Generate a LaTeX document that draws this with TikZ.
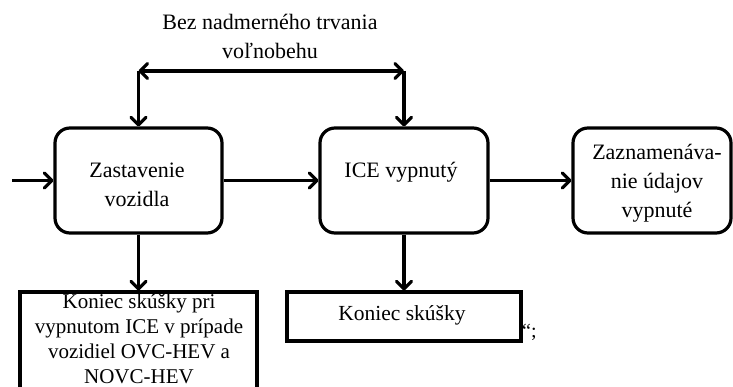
\documentclass[tikz,border=0pt]{standalone}
\usepackage{fontspec}
\setmainfont{Liberation Serif}
\usetikzlibrary{arrows.meta}
\begin{document}
\begin{tikzpicture}[x=1pt,y=-1pt,
  lw/.style={line width=3.2pt},
  barb/.tip={Straight Barb[length=7.5pt,width=15pt,round]},
  rbox/.style={draw,lw,rounded corners=15pt,inner sep=0pt},
  sbox/.style={draw,lw,inner sep=0pt},
  txt/.style={align=center,inner sep=0pt,anchor=base,font=\fontsize{22}{29}\selectfont},
  conn/.style={lw,-barb}]
\useasboundingbox (0,0) rectangle (733,387);
\begin{scope}
\clip (0,0) rectangle (733,387);
% process boxes
\node[rbox,minimum width=167pt,minimum height=105pt] (b1) at (138.5,180.5) {};
\node[rbox,minimum width=168pt,minimum height=105pt] (b2) at (404,180.5) {};
\node[rbox,minimum width=158pt,minimum height=105pt] (b3) at (652,180.5) {};
\node[sbox,minimum width=237pt,minimum height=104pt] (b4) at (138.5,344) {};
\node[sbox,minimum width=234pt,minimum height=49pt] (b5) at (404,316.5) {};
\end{scope}
% texts (base anchor sits on the last line)
\node[txt] (lbl) at (270,59) {Bez nadmerného trvania\\voľnobehu};
\node[txt] (t1) at (137,207) {Zastavenie\\vozidla};
\node[txt] (t2) at (401,178) {ICE vypnutý};
\node[txt] (t3) at (657,218) {Zaznamenáva-\\nie údajov\\vypnuté};
\node[txt,font=\fontsize{21}{24.8}\selectfont] (t4) at (139,383) {Koniec skúšky pri\\vypnutom ICE v prípade\\vozidiel OVC-HEV a\\NOVC-HEV};
\node[txt,font=\fontsize{21.5}{26}\selectfont] (t5) at (402,320) {Koniec skúšky};
\node[txt,anchor=base west,font=\fontsize{20}{24}\selectfont] (q) at (522,337) {“;};
% connectors
\coordinate (cl) at (b1.north |- 0,71);
\coordinate (cr) at (b2.north |- 0,71);
\coordinate (in) at (12,180.5);
\draw[lw,barb-barb] (cl) -- (cr);
\draw[conn] (cl) -- (b1.north);
\draw[conn] (cr) -- (b2.north);
\draw[conn] (in) -- (b1.west);
\draw[conn] (b1.east) -- (b2.west);
\draw[conn] (b2.east) -- (b3.west);
\draw[conn] (b1.south) -- (b4.north);
\draw[conn] (b2.south) -- (b5.north);
\end{tikzpicture}
\end{document}
